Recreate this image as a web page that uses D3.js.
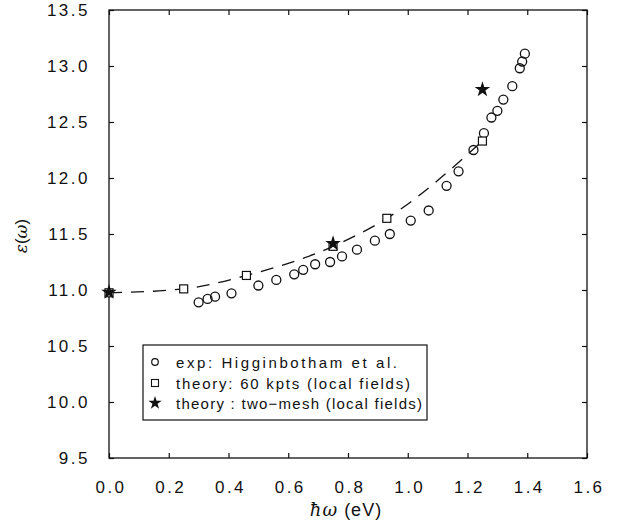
<!DOCTYPE html>
<html>
<head>
<meta charset="utf-8">
<script src="https://cdn.jsdelivr.net/npm/d3@7"></script>
<style>
  body { margin: 0; background: #fff; }
  text { font-family: "Liberation Sans", Arial, sans-serif; fill: #111; }
</style>
</head>
<body>
<div id="chart"></div>
<script>
// experiment (open circles)
const expX = [0.30, 0.33, 0.355, 0.41, 0.50, 0.56, 0.62, 0.65, 0.69, 0.74, 0.78, 0.83, 0.89, 0.94,
              1.01, 1.07, 1.13, 1.17, 1.22, 1.255, 1.28, 1.30, 1.32, 1.35, 1.375, 1.383, 1.392];
const expY = [10.89, 10.92, 10.94, 10.97, 11.04, 11.09, 11.14, 11.18, 11.23, 11.25, 11.30, 11.36, 11.44, 11.50,
              11.62, 11.71, 11.93, 12.06, 12.25, 12.40, 12.54, 12.60, 12.70, 12.82, 12.98, 13.04, 13.11];
// theory 60 kpts (squares + dashed line)
const kptX = [0.0, 0.25, 0.46, 0.75, 0.93, 1.25];
const kptY = [10.975, 11.01, 11.13, 11.39, 11.64, 12.33];
// theory two-mesh (stars)
const meshX = [0.0, 0.75, 1.25];
const meshY = [10.98, 11.415, 12.79];

const xTicks = [0.0, 0.2, 0.4, 0.6, 0.8, 1.0, 1.2, 1.4, 1.6];
const yTicks = [9.5, 10.0, 10.5, 11.0, 11.5, 12.0, 12.5, 13.0, 13.5];
const legendLabels = ["exp: Higginbotham et al.",
                      "theory: 60 kpts (local fields)",
                      "theory : two\u2212mesh (local fields)"];

const width = 620, height = 529;
const margin = {top: 10, left: 109, right: 33, bottom: 71};

const svg = d3.select("#chart").append("svg")
  .attr("width", width)
  .attr("height", height);

const x = d3.scaleLinear().domain([0, 1.6]).range([margin.left, width - margin.right]);
const y = d3.scaleLinear().domain([9.5, 13.5]).range([height - margin.bottom, margin.top]);

// frame
svg.append("rect")
  .attr("x", x(0)).attr("y", y(13.5))
  .attr("width", x(1.6) - x(0)).attr("height", y(9.5) - y(13.5))
  .attr("fill", "none").attr("stroke", "#111").attr("stroke-width", 1.3);

const tk = 5;
// inward ticks on all sides
svg.append("g").attr("transform", `translate(0,${y(9.5)})`)
  .call(d3.axisBottom(x).tickValues(xTicks).tickSize(-tk).tickFormat(""))
  .call(g => g.select(".domain").remove());
svg.append("g").attr("transform", `translate(0,${y(13.5)})`)
  .call(d3.axisTop(x).tickValues(xTicks).tickSize(-tk).tickFormat(""))
  .call(g => g.select(".domain").remove());
svg.append("g").attr("transform", `translate(${x(0)},0)`)
  .call(d3.axisLeft(y).tickValues(yTicks).tickSize(-tk).tickFormat(""))
  .call(g => g.select(".domain").remove());
svg.append("g").attr("transform", `translate(${x(1.6)},0)`)
  .call(d3.axisRight(y).tickValues(yTicks).tickSize(-tk).tickFormat(""))
  .call(g => g.select(".domain").remove());
svg.selectAll(".tick line").attr("stroke", "#111").attr("stroke-width", 1.2);

// tick labels
svg.append("g").selectAll("text")
  .data(xTicks).join("text")
  .attr("x", d => x(d) + 2)
  .attr("y", y(9.5) + 35)
  .attr("text-anchor", "middle")
  .style("font-size", "17px")
  .style("letter-spacing", "2.5px")
  .text(d => d.toFixed(1));

svg.append("g").selectAll("text")
  .data(yTicks).join("text")
  .attr("x", x(0) - 19)
  .attr("y", d => y(d) + 6)
  .attr("text-anchor", "end")
  .style("font-size", "17px")
  .style("letter-spacing", "2.5px")
  .text(d => d.toFixed(1));

// axis titles
const xt = svg.append("text")
  .attr("x", 346).attr("y", 516)
  .attr("text-anchor", "middle")
  .style("font-size", "18px")
  .style("letter-spacing", "1px");
xt.append("tspan").style("font-style", "italic").style("font-family", "'DejaVu Serif', serif").text("\u0127\u03c9");
xt.append("tspan").text(" (eV)");

const yt = svg.append("text")
  .attr("transform", `translate(27,236) rotate(-90)`)
  .attr("text-anchor", "middle")
  .style("font-size", "17px");
yt.append("tspan").style("font-family", "'DejaVu Serif', serif").style("font-style", "italic").text("\u03b5");
yt.append("tspan").text("(");
yt.append("tspan").style("font-family", "'DejaVu Serif', serif").style("font-style", "italic").text("\u03c9");
yt.append("tspan").text(")");

// dashed theory curve
const kpt = kptX.map((d, i) => ({x: d, y: kptY[i]}));
svg.append("path")
  .datum(kpt)
  .attr("d", d3.line().x(d => x(d.x)).y(d => y(d.y)).curve(d3.curveMonotoneX))
  .attr("fill", "none")
  .attr("stroke", "#111")
  .attr("stroke-width", 1.3)
  .attr("stroke-dasharray", "13,9");

// experiment circles
svg.append("g").selectAll("circle")
  .data(expX.map((d, i) => ({x: d, y: expY[i]})))
  .join("circle")
  .attr("cx", d => x(d.x)).attr("cy", d => y(d.y))
  .attr("r", 4.5)
  .attr("fill", "none").attr("stroke", "#111").attr("stroke-width", 1.3);

// squares
svg.append("g").selectAll("rect")
  .data(kpt)
  .join("rect")
  .attr("x", d => x(d.x) - 4).attr("y", d => y(d.y) - 4)
  .attr("width", 8).attr("height", 8)
  .attr("fill", "#fff").attr("stroke", "#111").attr("stroke-width", 1.2);

// stars
const star = d3.symbol().type(d3.symbolStar).size(75);
svg.append("g").selectAll("path")
  .data(meshX.map((d, i) => ({x: d, y: meshY[i]})))
  .join("path")
  .attr("transform", d => `translate(${x(d.x)},${y(d.y)})`)
  .attr("d", star)
  .attr("fill", "#111");

// legend
const lg = svg.append("g");
lg.append("rect")
  .attr("x", 143).attr("y", 345)
  .attr("width", 284).attr("height", 75)
  .attr("fill", "#fff").attr("stroke", "#111").attr("stroke-width", 1.2);

const rowY = [362, 383, 403];
const lineLen = [221, 234, 246];
lg.append("circle").attr("cx", 155).attr("cy", rowY[0]).attr("r", 3.3)
  .attr("fill", "none").attr("stroke", "#111").attr("stroke-width", 1.2);
lg.append("rect").attr("x", 151.5).attr("y", rowY[1] - 3.5).attr("width", 7).attr("height", 7)
  .attr("fill", "none").attr("stroke", "#111").attr("stroke-width", 1.1);
lg.append("path").attr("transform", `translate(155,${rowY[2]})`)
  .attr("d", d3.symbol().type(d3.symbolStar).size(55)).attr("fill", "#111");

lg.selectAll("text.lab")
  .data(legendLabels).join("text")
  .attr("class", "lab")
  .attr("x", 176)
  .attr("y", (d, i) => rowY[i] + 5.5)
  .attr("textLength", (d, i) => lineLen[i])
  .attr("lengthAdjust", "spacing")
  .style("font-size", "15px")
  .text(d => d);
</script>
</body>
</html>
